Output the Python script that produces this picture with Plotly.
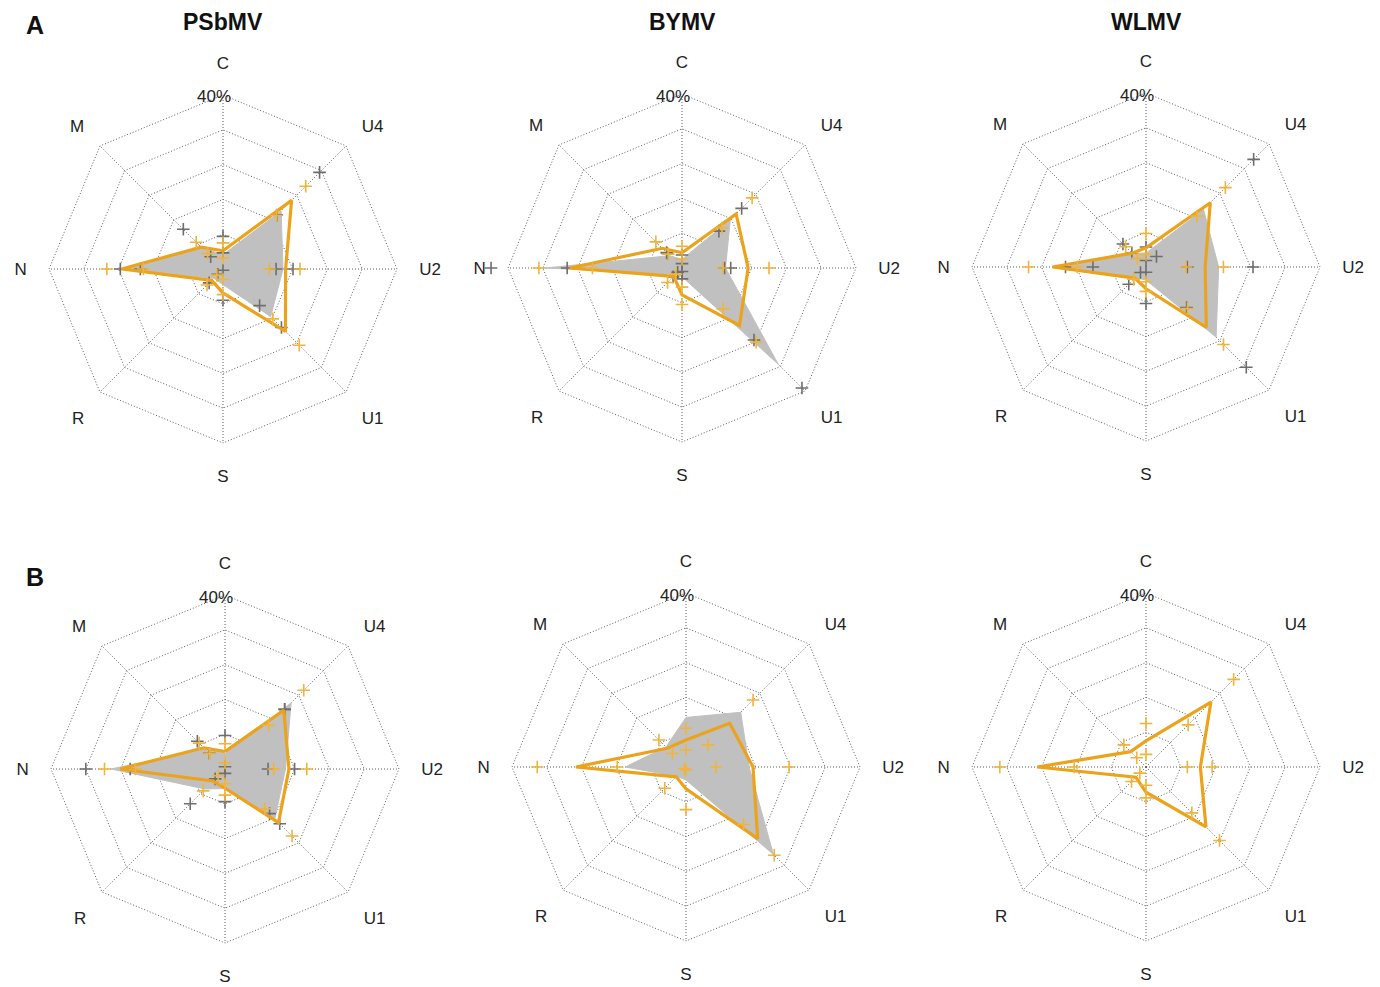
import plotly.graph_objects as go

W, H = 1380, 987
AXES = ["C", "U4", "U2", "U1", "S", "R", "N", "M"]
VIRUSES = ["PSbMV", "BYMV", "WLMV"]
ROWS = ["A", "B"]
RMAX = 40            # outer ring of the grid
R_VIEW = 45          # radial extent of the subplot (room for values above 40%)
RING_TICKS = [8, 16, 24, 32, 40]

# ---- Row A ----
a_psbmv_gray = [3.3, 18.9, 13.8, 15.5, 3.6, 3.0, 23.7, 7.0]
a_psbmv_orange = [4.2, 22.3, 14.4, 20.3, 5.5, 3.7, 23.3, 7.1]
a_psbmv_gray_lo = [3.7, 17.5, 12.2, 11.9, 0.3, 1.7, 19.0, 4.0]
a_psbmv_gray_hi = [7.5, 31.4, 16.1, 19.0, 7.2, 4.5, 23.6, 12.9]
a_psbmv_orange_lo = [2.5, 17.4, 10.7, 16.2, 2.4, 2.0, 18.3, 5.0]
a_psbmv_orange_hi = [6.0, 26.9, 17.7, 24.8, 5.9, 5.2, 26.7, 8.7]

a_bymv_gray = [2.0, 15.7, 10.0, 31.3, 2.0, 2.0, 31.5, 4.0]
a_bymv_orange = [3.5, 17.6, 15.2, 18.7, 6.2, 2.7, 25.8, 6.4]
a_bymv_gray_lo = [1.0, 12.0, 9.8, 23.4, 0.8, 1.4, 26.4, 4.7]
a_bymv_gray_hi = [3.0, 19.4, 11.2, 39.0, 2.5, 2.9, 43.9, 5.0]
a_bymv_orange_lo = [2.0, 13.0, 9.4, 13.3, 4.4, 2.0, 20.6, 4.5]
a_bymv_orange_hi = [5.0, 22.8, 20.0, 24.1, 8.4, 4.7, 32.9, 8.5]

a_wlmv_gray = [3.2, 18.7, 16.7, 22.8, 3.0, 3.5, 19.0, 4.5]
a_wlmv_orange = [4.4, 20.9, 13.6, 19.6, 5.0, 3.6, 21.5, 4.5]
a_wlmv_gray_lo = [1.5, 3.4, 9.5, 13.2, 1.2, 1.8, 12.2, 4.6]
a_wlmv_gray_hi = [4.6, 35.0, 24.6, 32.6, 8.4, 5.6, 18.5, 7.5]
a_wlmv_orange_lo = [2.9, 16.6, 9.2, 13.5, 3.4, 4.0, 15.8, 2.8]
a_wlmv_orange_hi = [7.7, 25.8, 17.8, 25.2, 5.6, 4.0, 27.0, 6.6]

# ---- Row B ----
b_psbmv_gray = [3.5, 21.5, 13.9, 16.2, 4.5, 6.5, 26.2, 6.5]
b_psbmv_orange = [4.0, 19.1, 14.7, 17.4, 4.4, 3.9, 24.1, 6.9]
b_psbmv_gray_lo = [0.5, 19.4, 9.9, 14.5, 1.0, 3.2, 21.8, 5.1]
b_psbmv_gray_hi = [7.7, 19.4, 16.0, 17.8, 7.5, 11.3, 32.0, 9.0]
b_psbmv_orange_lo = [1.4, 14.2, 11.2, 12.9, 3.4, 2.2, 20.6, 5.0]
b_psbmv_orange_hi = [5.8, 25.6, 18.8, 21.8, 6.0, 7.1, 27.7, 8.4]

b_bymv_gray = [11.4, 17.8, 14.5, 28.4, 3.0, 3.0, 14.0, 6.5]
b_bymv_orange = [6.2, 14.2, 15.4, 23.3, 5.0, 3.2, 25.3, 6.1]
b_bymv_orange_lo = [3.9, 7.2, 6.9, 18.7, 0.7, 0.5, 15.8, 4.4]
b_bymv_orange_hi = [8.9, 21.8, 23.7, 28.7, 9.8, 6.9, 34.2, 8.8]

b_wlmv_orange = [6.0, 21.1, 12.5, 19.5, 5.8, 3.3, 25.0, 5.0]
b_wlmv_orange_lo = [2.9, 13.7, 9.5, 14.9, 4.2, 2.0, 16.5, 3.0]
b_wlmv_orange_hi = [10.0, 28.5, 15.2, 23.9, 7.1, 4.7, 33.6, 7.2]

panels = [
    dict(gray=a_psbmv_gray, orange=a_psbmv_orange, glo=a_psbmv_gray_lo, ghi=a_psbmv_gray_hi,
         olo=a_psbmv_orange_lo, ohi=a_psbmv_orange_hi),
    dict(gray=a_bymv_gray, orange=a_bymv_orange, glo=a_bymv_gray_lo, ghi=a_bymv_gray_hi,
         olo=a_bymv_orange_lo, ohi=a_bymv_orange_hi),
    dict(gray=a_wlmv_gray, orange=a_wlmv_orange, glo=a_wlmv_gray_lo, ghi=a_wlmv_gray_hi,
         olo=a_wlmv_orange_lo, ohi=a_wlmv_orange_hi),
    dict(gray=b_psbmv_gray, orange=b_psbmv_orange, glo=b_psbmv_gray_lo, ghi=b_psbmv_gray_hi,
         olo=b_psbmv_orange_lo, ohi=b_psbmv_orange_hi),
    dict(gray=b_bymv_gray, orange=b_bymv_orange, glo=None, ghi=None,
         olo=b_bymv_orange_lo, ohi=b_bymv_orange_hi),
    dict(gray=None, orange=b_wlmv_orange, glo=None, ghi=None,
         olo=b_wlmv_orange_lo, ohi=b_wlmv_orange_hi),
]

# layout geometry (pixels)
CENTERS = [(223, 269), (682, 268), (1146, 267), (225, 769), (686, 767), (1146, 767)]
RING_PX = 174                      # pixel radius of the 40% ring
RADIUS = RING_PX * R_VIEW / RMAX   # pixel radius of the subplot

ORANGE = "#EBA31C"
ORANGE_PLUS = "#F0B43C"
GRAY_FILL = "#C0C0C0"
GRAY_PLUS = "#6E6E6E"
GRID = "#5E5E5E"
GRID_DASH = "1px,2px"
FONT = "Liberation Sans"

fig = go.Figure()

def closed(v):
    return list(v) + [v[0]]

theta_c = AXES + [AXES[0]]
spoke_r, spoke_t = [], []
for ax in AXES:
    spoke_r += [0, RMAX, None]
    spoke_t += [ax, ax, ax]

for i, p in enumerate(panels):
    sp = "polar" if i == 0 else f"polar{i+1}"
    # spokes of the grid, from the centre to the 40% ring
    fig.add_trace(go.Scatterpolar(r=spoke_r, theta=spoke_t, mode="lines",
                                  line=dict(color=GRID, width=1, dash=GRID_DASH),
                                  connectgaps=False,
                                  subplot=sp, showlegend=False, hoverinfo="skip"))
    if p["gray"] is not None:
        fig.add_trace(go.Scatterpolar(r=closed(p["gray"]), theta=theta_c, mode="lines",
                                      fill="toself", fillcolor=GRAY_FILL,
                                      line=dict(color=GRAY_FILL, width=1),
                                      subplot=sp, showlegend=False, hoverinfo="skip"))
    if p["glo"] is not None:
        fig.add_trace(go.Scatterpolar(r=p["glo"] + p["ghi"], theta=AXES + AXES, mode="markers",
                                      marker=dict(symbol="cross-thin", size=9,
                                                  line=dict(color=GRAY_PLUS, width=1.6)),
                                      cliponaxis=False,
                                      subplot=sp, showlegend=False, hoverinfo="skip"))
    fig.add_trace(go.Scatterpolar(r=closed(p["orange"]), theta=theta_c, mode="lines",
                                  line=dict(color=ORANGE, width=3.2),
                                  subplot=sp, showlegend=False, hoverinfo="skip"))
    fig.add_trace(go.Scatterpolar(r=p["olo"] + p["ohi"], theta=AXES + AXES, mode="markers",
                                  marker=dict(symbol="cross-thin", size=9,
                                              line=dict(color=ORANGE_PLUS, width=1.6)),
                                  cliponaxis=False,
                                  subplot=sp, showlegend=False, hoverinfo="skip"))

annotations = []
for i, (cx, cy) in enumerate(CENTERS):
    key = "polar" if i == 0 else f"polar{i+1}"
    fig.layout[key] = dict(
        domain=dict(x=[(cx - RADIUS) / W, (cx + RADIUS) / W],
                    y=[1 - (cy + RADIUS) / H, 1 - (cy - RADIUS) / H]),
        gridshape="linear",
        bgcolor="rgba(0,0,0,0)",
        radialaxis=dict(range=[0, R_VIEW], tickvals=RING_TICKS,
                        showticklabels=False, angle=90,
                        showline=False, ticks="", gridcolor=GRID, griddash=GRID_DASH,
                        gridwidth=1),
        angularaxis=dict(type="category", categoryarray=AXES, rotation=90,
                         direction="clockwise", showline=False, showgrid=False,
                         ticks="", tickfont=dict(family=FONT, size=17, color="#222")),
    )
    annotations.append(dict(text=f"{RMAX}%", x=(cx - 9) / W, y=1 - (cy - 172) / H,
                            xref="paper", yref="paper", showarrow=False,
                            font=dict(family=FONT, size=17, color="#222"),
                            xanchor="center", yanchor="middle"))

for j, v in enumerate(VIRUSES):
    cx = CENTERS[j][0]
    annotations.append(dict(text=f"<b>{v}</b>", x=cx / W, y=1 - 22 / H, xref="paper", yref="paper",
                            showarrow=False, font=dict(family=FONT, size=23, color="#111"),
                            xanchor="center", yanchor="middle"))
annotations.append(dict(text=f"<b>{ROWS[0]}</b>", x=35 / W, y=1 - 25 / H, xref="paper", yref="paper",
                        showarrow=False, font=dict(family=FONT, size=25, color="#111"),
                        xanchor="center", yanchor="middle"))
annotations.append(dict(text=f"<b>{ROWS[1]}</b>", x=35 / W, y=1 - 577 / H, xref="paper", yref="paper",
                        showarrow=False, font=dict(family=FONT, size=25, color="#111"),
                        xanchor="center", yanchor="middle"))

fig.update_layout(width=W, height=H, margin=dict(l=0, r=0, t=0, b=0),
                  paper_bgcolor="white", plot_bgcolor="white",
                  annotations=annotations, showlegend=False)

fig.write_html("out.html", config={"displayModeBar": False},
               post_script="document.body.style.margin='0px';document.body.style.overflow='hidden';")
